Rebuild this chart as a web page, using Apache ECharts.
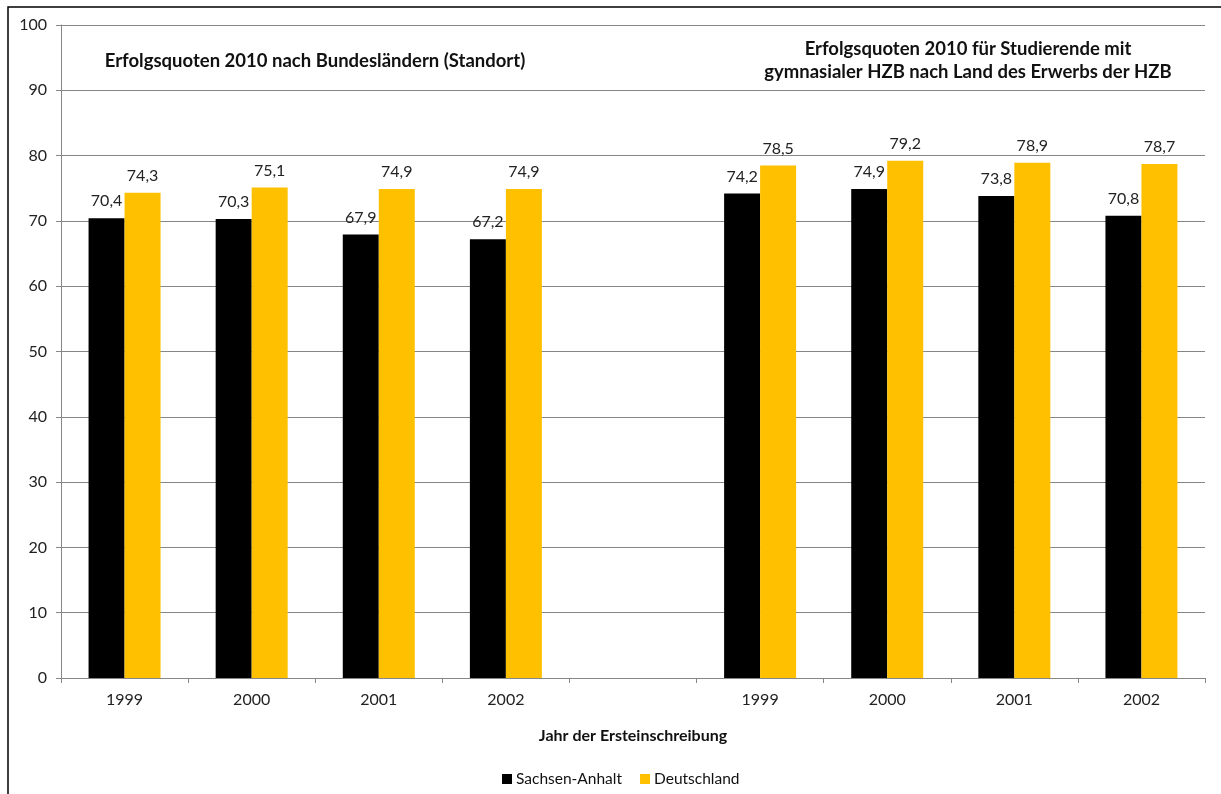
<!DOCTYPE html>
<html>
<head>
<meta charset="utf-8">
<script src="https://cdn.jsdelivr.net/npm/echarts@6/dist/echarts.min.js"></script>
<style>
html,body{margin:0;padding:0;background:#fff;}
#c{width:1221px;height:794px;}
</style>
</head>
<body>
<div id="c"></div>
<script>
var categories = ['1999','2000','2001','2002','','1999','2000','2001','2002'];
var sachsenAnhalt = [70.4, 70.3, 67.9, 67.2, null, 74.2, 74.9, 73.8, 70.8];
var deutschland = [74.3, 75.1, 74.9, 74.9, null, 78.5, 79.2, 78.9, 78.7];
var yTicks = {min: 0, max: 100, interval: 10};
var titleLeft = 'Erfolgsquoten 2010 nach Bundesländern (Standort)';
var titleRight = 'Erfolgsquoten 2010 für Studierende mit\ngymnasialer HZB nach Land des Erwerbs der HZB';

var FONT = 'Lato';
var chart = echarts.init(document.getElementById('c'), null, {renderer: 'canvas'});
function lbl(p){ return p.value == null ? '' : String(p.value.toFixed(1)).replace('.', ','); }
chart.setOption({
  backgroundColor: '#fff',
  animation: false,
  textStyle: {fontFamily: FONT},
  graphic: [{
    type: 'rect', silent: true, z: 100,
    shape: {x: 8, y: 7, width: 1300, height: 900},
    style: {fill: 'none', stroke: '#000', lineWidth: 1.5}
  }],
  title: [
    {text: titleLeft, left: 310, top: 47, textAlign: 'center',
     textStyle: {fontFamily: FONT, fontSize: 18.5, fontWeight: 'bold', color: '#111'}},
    {text: titleRight, left: 963, top: 33, textAlign: 'center',
     textStyle: {fontFamily: FONT, fontSize: 18.5, fontWeight: 'bold', color: '#111', lineHeight: 23}}
  ],
  legend: {
    left: 497, top: 766, icon: 'rect', itemWidth: 10, itemHeight: 10, itemGap: 18,
    textStyle: {fontFamily: FONT, fontSize: 15.5, color: '#111', padding: [0, 0, 0, -1]},
    data: ['Sachsen-Anhalt', 'Deutschland']
  },
  grid: {left: 61, right: 16, top: 25, bottom: 116},
  xAxis: {
    type: 'category', data: categories, boundaryGap: true,
    axisLine: {lineStyle: {color: '#868686'}},
    axisTick: {show: true, interval: 0, length: 5, lineStyle: {color: '#868686'}},
    axisLabel: {interval: 0, fontSize: 16, color: '#222', margin: 14, fontFamily: FONT},
    name: 'Jahr der Ersteinschreibung', nameLocation: 'middle', nameGap: 50,
    nameTextStyle: {fontFamily: FONT, fontSize: 16, fontWeight: 'bold', color: '#111'}
  },
  yAxis: {
    type: 'value', min: yTicks.min, max: yTicks.max, interval: yTicks.interval,
    axisLine: {show: true, lineStyle: {color: '#868686'}},
    axisTick: {show: true, length: 5, lineStyle: {color: '#868686'}},
    axisLabel: {fontSize: 16, color: '#222', margin: 14, fontFamily: FONT},
    splitLine: {lineStyle: {color: '#868686'}}
  },
  series: [
    {name: 'Sachsen-Anhalt', type: 'bar', data: sachsenAnhalt, barWidth: 36, barGap: '0%',
     itemStyle: {color: '#000000'},
     label: {show: true, position: 'top', distance: 9, fontSize: 16, color: '#222', fontFamily: FONT, formatter: lbl}},
    {name: 'Deutschland', type: 'bar', data: deutschland, barWidth: 36, barGap: '0%',
     itemStyle: {color: '#FFC000'},
     label: {show: true, position: 'top', distance: 9, fontSize: 16, color: '#222', fontFamily: FONT, formatter: lbl}}
  ]
});
</script>
</body>
</html>
